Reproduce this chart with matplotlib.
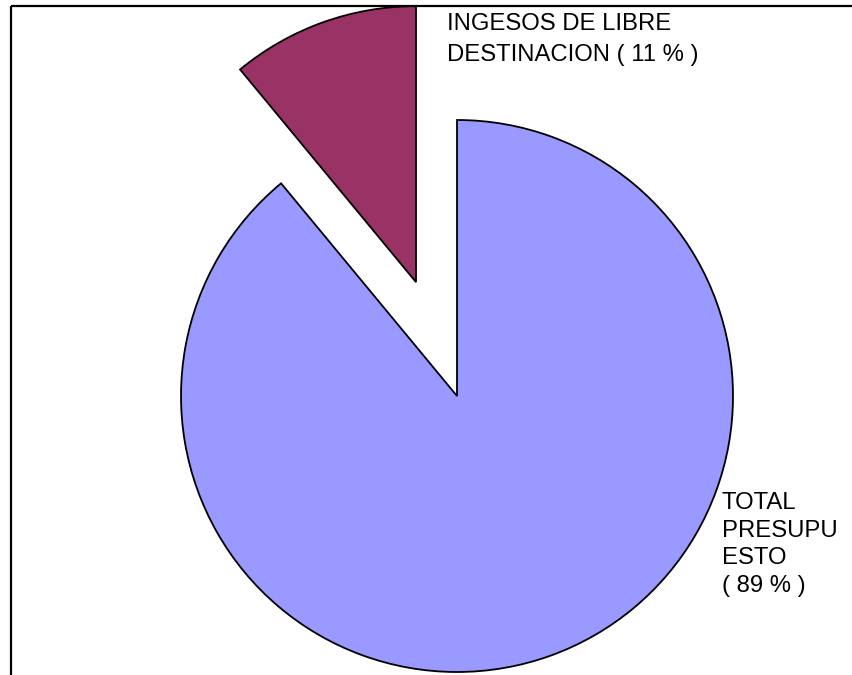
import matplotlib
matplotlib.use("Agg")
import matplotlib.pyplot as plt

labels = ["INGESOS DE LIBRE\nDESTINACION ( 11 % )", "TOTAL\nPRESUPU\nESTO\n( 89 % )"]
values = [11, 89]
colors = ["#993366", "#9999FF"]

W, H = 852, 675
fig = plt.figure(figsize=(W / 100, H / 100), dpi=100)
ax = fig.add_axes([0, 0, 1, 1])

def py(y):
    return H - y

ax.pie(values, colors=colors, startangle=90, counterclock=True,
       center=(457, py(396)), radius=276, explode=[121, 0],
       wedgeprops=dict(edgecolor="black", linewidth=1.3), frame=True)
ax.set_xlim(0, W)
ax.set_ylim(0, H)
ax.set_aspect("equal")
ax.axis("off")

# chart frame
ax.plot([10.5, 10.5], [-5, py(5.5)], color="black", lw=1.6, solid_capstyle="butt", clip_on=False)
ax.plot([10.5, W + 5], [py(5.5), py(5.5)], color="black", lw=1.6, solid_capstyle="butt", clip_on=False)

font = "Liberation Sans"
ax.text(447, py(13), labels[0], fontsize=17.2, family=font, va="top", ha="left",
        linespacing=1.55)
ax.text(722, py(492), labels[1], fontsize=17.2, family=font, va="top", ha="left",
        linespacing=1.33)

fig.savefig("out.png", dpi=100)
